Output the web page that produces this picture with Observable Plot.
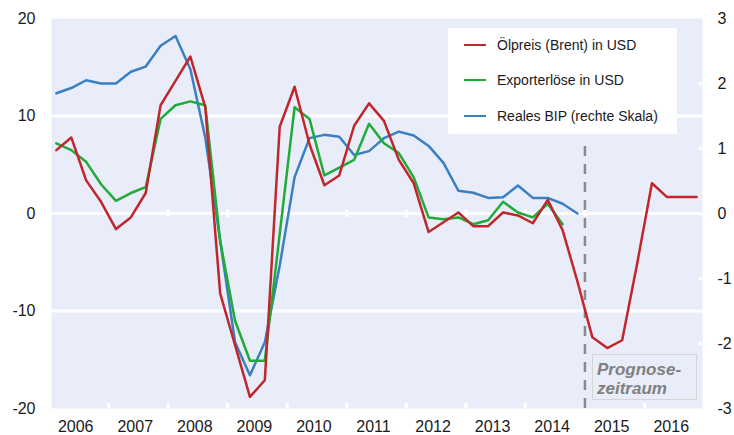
<!DOCTYPE html>
<html>
<head>
<meta charset="utf-8">
<script src="https://cdn.jsdelivr.net/npm/d3@7"></script>
<script src="https://cdn.jsdelivr.net/npm/@observablehq/plot@0.6"></script>
<style>
  html, body { margin: 0; padding: 0; background: #fff; }
  #wrap { position: relative; width: 734px; height: 435px; font-family: "Liberation Sans", Arial, sans-serif; }
  #legend { position: absolute; left: 448px; top: 28px; width: 229px; height: 106px; background: #fff; }
  .item { position: absolute; left: 16px; height: 20px; display: flex; align-items: center; font-size: 14px; color: #1a1a1a; white-space: nowrap; }
  .swatch { width: 22px; height: 0; border-top: 2.5px solid; margin-right: 11px; }
  #prog { position: absolute; left: 592px; top: 354px; width: 103px; height: 44px; border: 1px solid #d4d4d4; box-sizing: content-box;
          font-weight: bold; font-style: italic; font-size: 17px; line-height: 19px; color: #808080; padding: 0; }
  #prog div { padding-left: 4px; }
</style>
</head>
<body>
<div id="wrap"></div>
<script>
// ---- data (quarterly, 2006 Q1 onward) ----
const years = [2006, 2007, 2008, 2009, 2010, 2011, 2012, 2013, 2014, 2015, 2016];
const seriesNames = ["Ölpreis (Brent) in USD", "Exporterlöse in USD", "Reales BIP (rechte Skala)"];
const seriesColors = ["#c0272d", "#1fab37", "#3a7fc2"];
const oilPrice = [6.5, 7.8, 3.4, 1.2, -1.6, -0.4, 2.1, 11.1, 13.6, 16.1, 10.9, -8.2, -13.5, -18.8, -17.1, 8.9,
  13.0, 7.1, 2.9, 3.9, 9.0, 11.3, 9.5, 5.5, 3.1, -1.9, -0.9, 0.1, -1.3, -1.3, 0.1, -0.2, -1.0, 1.4, -1.7, -7.0,
  -12.7, -13.8, -13.0, -5.2, 3.1, 1.7, 1.7, 1.7];
const exportRevenue = [7.2, 6.5, 5.3, 3.0, 1.3, 2.1, 2.7, 9.7, 11.1, 11.5, 11.1, -2.8, -11.0, -15.1, -15.1, -2.1,
  10.9, 9.7, 3.9, 4.7, 5.5, 9.2, 7.2, 6.2, 3.7, -0.4, -0.6, -0.4, -1.1, -0.7, 1.2, 0.1, -0.4, 1.0, -1.1];
const realGdp = [1.85, 1.93, 2.05, 2.0, 2.0, 2.18, 2.26, 2.58, 2.73, 2.22, 1.17, -0.42, -1.98, -2.49, -1.98, -0.8,
  0.56, 1.16, 1.21, 1.18, 0.90, 0.96, 1.16, 1.26, 1.2, 1.04, 0.78, 0.35, 0.32, 0.24, 0.25, 0.43, 0.24, 0.24, 0.15, 0.0];
const leftTicks = [-20, -10, 0, 10, 20];
const rightTicks = [-3, -2, -1, 0, 1, 2, 3];
const gridValues = [-10, 0, 10];
const forecastStart = 2015;
const forecastLabel = ["Prognose-", "zeitraum"];

// ---- build ----
const leftMax = 20, rightMax = 3, ratio = leftMax / rightMax;
const rows = (arr, k = 1) => arr.map((v, i) => ({x: years[0] + (i + 0.5) / 4, y: v * k}));
const font = '"Liberation Sans", Arial, sans-serif';
const fmt = d => String(d);

const chart = Plot.plot({
  width: 734, height: 435,
  marginLeft: 51, marginRight: 32, marginTop: 18, marginBottom: 27,
  x: {domain: [2006.043, 2016.974], label: null},
  y: {domain: [-leftMax, leftMax], label: null},
  style: {fontFamily: font, fontSize: "16px", color: "#1a1a1a", background: "white", overflow: "visible"},
  marks: [
    Plot.frame({fill: "#e9edf9", stroke: "none"}),
    Plot.ruleY(gridValues, {stroke: "white", strokeWidth: 3}),
    Plot.ruleX(years.slice(1), {y1: -0.4, y2: 0.38, stroke: "white", strokeWidth: 3}),
    Plot.ruleX(years.slice(1), {y1: -leftMax, y2: -leftMax + 0.5, stroke: "white", strokeWidth: 3}),
    Plot.ruleY(rightTicks.filter(v => v !== 0 && Math.abs(v) < rightMax).map(v => v * ratio),
      {x1: 2016.92, x2: 2016.974, stroke: "white", strokeWidth: 3}),
    Plot.ruleX([forecastStart], {y1: -leftMax, y2: 7.7, stroke: "#8a8a8a", strokeWidth: 2.5, strokeDasharray: "10,8"}),
    Plot.line(rows(realGdp, ratio), {x: "x", y: "y", stroke: seriesColors[2], strokeWidth: 2.5}),
    Plot.line(rows(exportRevenue), {x: "x", y: "y", stroke: seriesColors[1], strokeWidth: 2.5}),
    Plot.line(rows(oilPrice), {x: "x", y: "y", stroke: seriesColors[0], strokeWidth: 2.5}),
    Plot.axisY(leftTicks, {anchor: "left", tickSize: 0, tickPadding: 16, tickFormat: fmt, fontSize: 16, label: null}),
    Plot.axisY(rightTicks.map(v => v * ratio), {anchor: "right", tickSize: 0, tickPadding: 15,
      tickFormat: d => String(Math.round(d / ratio)), fontSize: 16, label: null}),
    Plot.axisX(years.map(y => y + 0.5), {anchor: "bottom", tickSize: 0, tickPadding: 12,
      tickFormat: d => String(Math.floor(d)), fontSize: 16, dx: -3, label: null})
  ]
});

const wrap = document.getElementById("wrap");
wrap.appendChild(chart);

// legend
const legend = document.createElement("div");
legend.id = "legend";
const rowTops = [7, 42, 78];
seriesNames.forEach((name, i) => {
  const it = document.createElement("div");
  it.className = "item";
  it.style.top = rowTops[i] + "px";
  const sw = document.createElement("span");
  sw.className = "swatch";
  sw.style.borderColor = seriesColors[i];
  const tx = document.createElement("span");
  tx.textContent = name;
  it.appendChild(sw); it.appendChild(tx);
  legend.appendChild(it);
});
wrap.appendChild(legend);

// forecast label box
const prog = document.createElement("div");
prog.id = "prog";
const pad = document.createElement("div");
pad.style.height = "5px"; pad.style.padding = "0";
prog.appendChild(pad);
forecastLabel.forEach(t => { const d = document.createElement("div"); d.textContent = t; prog.appendChild(d); });
wrap.appendChild(prog);
</script>
</body>
</html>
